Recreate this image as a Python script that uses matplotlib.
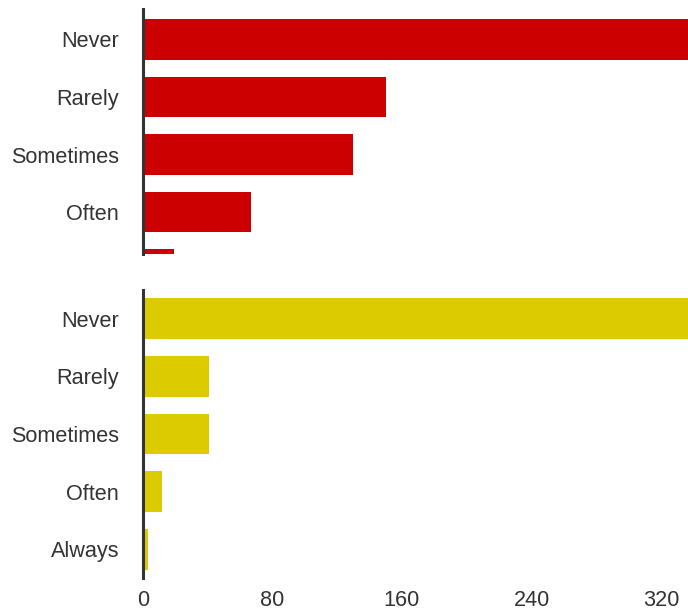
import matplotlib
matplotlib.use("Agg")
import matplotlib.pyplot as plt

categories = ["Never", "Rarely", "Sometimes", "Often", "Always"]
top_values = [345, 150, 130, 67, 19]
bottom_values = [360, 41, 41, 12, 3]
x_ticks = [0, 80, 160, 240, 320]

plt.rcParams['font.family'] = ['Liberation Sans', 'DejaVu Sans']
TXT = '#333333'
FS = 15.6

fig = plt.figure(figsize=(6.88, 6.13), dpi=100)
x0 = 142.8 / 688
w = 1 - x0
ax1 = fig.add_axes([x0, (613 - 254) / 613, w, 245 / 613])
ax2 = fig.add_axes([x0, (613 - 578) / 613, w, 288 / 613])

xmax = 545 / 1.619

for ax, vals, col in [(ax1, top_values, '#cc0000'), (ax2, bottom_values, '#dccb00')]:
    ypos = list(range(len(categories)))
    ax.barh(ypos, vals, height=0.71, color=col, zorder=1)
    ax.set_xlim(0, xmax)
    for s in ['top', 'right', 'bottom']:
        ax.spines[s].set_visible(False)
    ax.spines['left'].set_color('#333333')
    ax.spines['left'].set_linewidth(2.2)
    ax.spines['left'].set_zorder(3)
    ax.set_yticks(ypos)
    ax.set_yticklabels(categories, fontsize=FS, color=TXT)
    ax.tick_params(axis='y', length=0, pad=17)
    ax.tick_params(axis='x', length=0, pad=9, labelsize=FS, labelcolor=TXT)

ax1.set_ylim(3.73, -0.53)
ax1.set_xticks([])
for lbl, yv in zip(ax1.get_yticklabels(), range(len(categories))):
    if yv > 3.73:
        lbl.set_visible(False)
ax2.set_ylim(4.5, -0.5)
ax2.set_xticks(x_ticks)
ax2.set_xticklabels([str(t) for t in x_ticks])

fig.savefig("out.png", dpi=100)
